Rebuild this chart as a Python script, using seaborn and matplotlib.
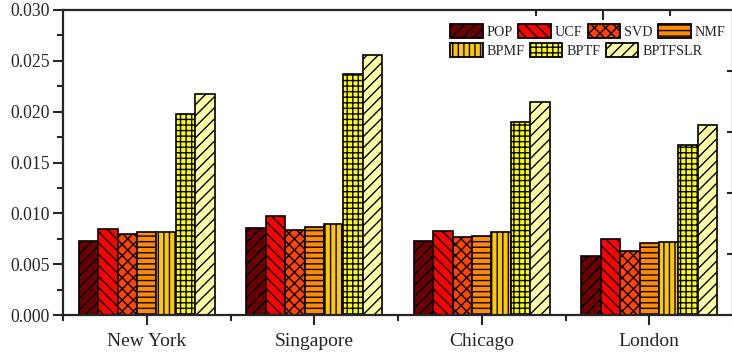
import numpy as np
import pandas as pd
import matplotlib
matplotlib.use("Agg")
import matplotlib.pyplot as plt
import seaborn as sns
from matplotlib.patches import Patch
from matplotlib.ticker import FormatStrFormatter, MultipleLocator, FixedLocator, NullFormatter

cities = ["New York", "Singapore", "Chicago", "London"]
methods = ["POP", "UCF", "SVD", "NMF", "BPMF", "BPTF", "BPTFSLR"]
pop = [0.00731, 0.00859, 0.00728, 0.00583]
ucf = [0.00849, 0.00977, 0.00826, 0.00744]
svd = [0.00794, 0.00836, 0.00772, 0.00633]
nmf = [0.00819, 0.00869, 0.00780, 0.00705]
bpmf = [0.00819, 0.00892, 0.00820, 0.00721]
bptf = [0.01978, 0.02366, 0.01897, 0.01669]
bptfslr = [0.02172, 0.02562, 0.02098, 0.01872]

colors = ["#6B0000", "#FF0000", "#FF4500", "#FF8C00", "#FFC800", "#FFFF00", "#FFFFA8"]
hatches = ["///", "\\\\\\", "xxx", "---", "|||", "+++", "///"]

series = [pop, ucf, svd, nmf, bpmf, bptf, bptfslr]
rows = []
for m, vals in zip(methods, series):
    for c, v in zip(cities, vals):
        rows.append({"city": c, "method": m, "value": v})
df = pd.DataFrame(rows)

sns.set_style("ticks")
plt.rcParams["font.family"] = ["Liberation Serif", "DejaVu Serif"]
plt.rcParams["hatch.linewidth"] = 1.0

W, H = 732, 353
fig = plt.figure(figsize=(W / 100, H / 100), dpi=100)
ax = fig.add_axes([63 / W, 38 / H, 670 / W, 305 / H])

sns.barplot(data=df, x="city", y="value", hue="method", order=cities,
            hue_order=methods, palette=colors, width=0.81, ax=ax,
            edgecolor="black", linewidth=1.2, legend=False, saturation=1)

for cont, h in zip(ax.containers, hatches):
    for bar in cont:
        bar.set_hatch(h)

ax.set_xlim(-0.5, 3.5)
ax.set_ylim(0, 0.030)
ax.set_xlabel("")
ax.set_ylabel("")
ax.yaxis.set_major_locator(MultipleLocator(0.005))
ax.yaxis.set_minor_locator(MultipleLocator(0.0025))
ax.yaxis.set_major_formatter(FormatStrFormatter("%.3f"))
ax.xaxis.set_minor_locator(FixedLocator([-0.5, 0.5, 1.5, 2.5, 3.5]))
ax.tick_params(axis="both", which="major", direction="out", length=7, width=1.5)
ax.tick_params(axis="both", which="minor", direction="out", length=4, width=1.5)
ax.tick_params(axis="y", labelsize=12.7, pad=2.5)
ax.tick_params(axis="x", labelsize=14, pad=6)
for s in ax.spines.values():
    s.set_linewidth(1.6)
    s.set_visible(True)

# secondary (partially clipped) axes ticks on top and right
ax2 = ax.twinx()
ax2.set_ylim(0, 0.030)
ax2.set_yticks([0.006, 0.012, 0.018, 0.024])
ax2.yaxis.set_major_formatter(NullFormatter())
ax2.tick_params(axis="y", direction="in", length=4, width=1.5)
ax3 = ax.twiny()
ax3.set_xlim(-0.5, 3.5)
ax3.set_xticks([2.724])
ax3.set_xticks([2.324, 3.124], minor=True)
ax3.xaxis.set_major_formatter(NullFormatter())
ax3.tick_params(axis="x", which="major", direction="in", length=7, width=1.5)
ax3.tick_params(axis="x", which="minor", direction="in", length=4, width=1.5)
for a in (ax2, ax3):
    for s in a.spines.values():
        s.set_visible(False)

handles = [Patch(facecolor=c, edgecolor="black", hatch=h, linewidth=1.3)
           for c, h in zip(colors, hatches)]
leg_kw = dict(frameon=False, loc="upper left", bbox_transform=fig.transFigure,
              fontsize=10.2, handlelength=2.3, handleheight=1.15,
              columnspacing=0.35, handletextpad=0.3, borderpad=0.0,
              borderaxespad=0.0)
leg1 = ax.legend(handles[:4], methods[:4], ncol=4,
                 bbox_to_anchor=(450 / W, 1 - 24 / H), **leg_kw)
ax.add_artist(leg1)
leg2 = ax.legend(handles[4:], methods[4:], ncol=3,
                 bbox_to_anchor=(450 / W, 1 - 43 / H), **leg_kw)

fig.savefig("out.png", dpi=100)
